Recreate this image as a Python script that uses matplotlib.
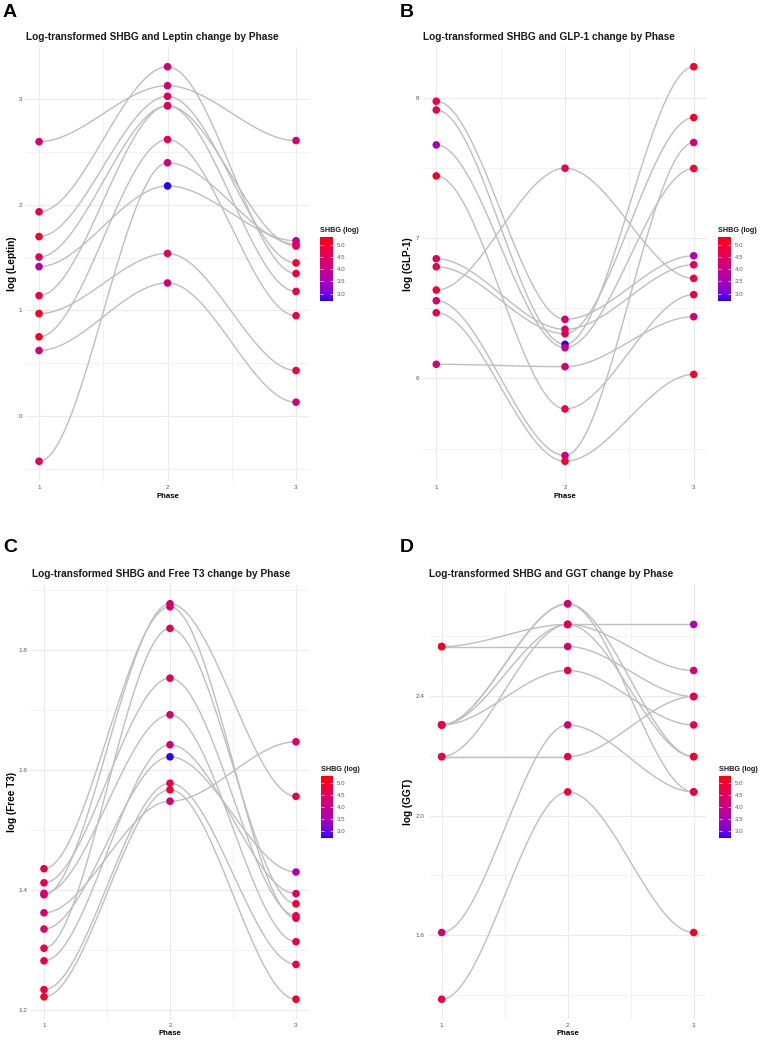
import numpy as np
import matplotlib
matplotlib.use("Agg")
import matplotlib.pyplot as plt
from matplotlib.colors import ListedColormap, Normalize
from matplotlib.ticker import MultipleLocator, FixedLocator
from matplotlib.cm import ScalarMappable

plt.rcParams["font.family"] = ["Liberation Sans", "DejaVu Sans"]

phases = [1, 2, 3]

# ---------------- data (rows = subjects, columns = phases 1,2,3) ----------------
leptin = [
    [2.60, 3.13, 2.61],
    [1.935, 3.31, 1.35],
    [1.70, 3.03, 1.45],
    [1.506, 2.94, 1.61],
    [1.415, 2.18, 1.66],
    [1.14, 2.94, 1.18],
    [0.97, 1.54, 0.43],
    [0.75, 2.62, 0.95],
    [0.62, 1.26, 0.13],
    [-0.43, 2.40, 1.63],
]
leptin_shbg = [
    [4.3, 4.2, 4.3],
    [4.7, 4.2, 4.9],
    [5.0, 4.6, 5.0],
    [4.5, 4.4, 4.6],
    [3.6, 2.75, 3.6],
    [4.7, 4.4, 4.7],
    [5.1, 4.6, 4.9],
    [5.1, 4.6, 4.7],
    [4.2, 4.1, 4.3],
    [4.6, 4.1, 4.6],
]

glp1 = [
    [7.974, 6.42, 6.873],
    [7.912, 6.242, 8.22],
    [7.663, 6.218, 7.495],
    [7.442, 5.782, 6.596],
    [6.852, 6.349, 6.809],
    [6.795, 6.318, 7.858],
    [6.629, 7.497, 6.712],
    [6.553, 5.45, 7.68],
    [6.467, 5.409, 6.028],
    [6.100, 6.083, 6.439],
]
glp1_shbg = [
    [4.7, 4.2, 3.6],
    [4.7, 2.75, 5.0],
    [3.6, 4.1, 5.0],
    [5.1, 4.7, 4.8],
    [4.5, 4.4, 4.6],
    [4.7, 4.6, 5.1],
    [4.9, 4.6, 4.8],
    [4.3, 4.1, 4.3],
    [4.8, 5.0, 5.1],
    [4.3, 4.2, 4.3],
]

free_t3 = [
    [1.4355, 1.872, 1.353],
    [1.412, 1.753, 1.357],
    [1.3945, 1.692, 1.314],
    [1.392, 1.877, 1.556],
    [1.362, 1.548, 1.647],
    [1.335, 1.622, 1.430],
    [1.303, 1.836, 1.377],
    [1.282, 1.642, 1.394],
    [1.234, 1.578, 1.276],
    [1.222, 1.567, 1.218],
]
free_t3_shbg = [
    [4.7, 4.3, 4.6],
    [4.6, 4.6, 4.7],
    [4.3, 4.2, 4.6],
    [4.4, 4.3, 4.7],
    [4.4, 4.2, 4.4],
    [4.4, 2.75, 3.6],
    [4.7, 4.6, 5.0],
    [4.7, 4.2, 4.4],
    [4.9, 4.7, 4.9],
    [5.1, 5.0, 5.1],
]

ggt = [
    [2.565, 2.639, 2.639],
    [2.565, 2.565, 2.398],
    [2.303, 2.708, 2.197],
    [2.303, 2.708, 2.079],
    [2.303, 2.485, 2.303],
    [2.197, 2.639, 2.485],
    [2.197, 2.197, 2.398],
    [1.609, 2.303, 2.079],
    [1.386, 2.079, 1.609],
    [2.303, 2.639, 2.197],
]
ggt_shbg = [
    [5.1, 4.6, 3.6],
    [5.1, 4.2, 4.6],
    [4.8, 4.2, 5.0],
    [4.8, 4.2, 4.8],
    [4.8, 4.6, 4.7],
    [4.8, 4.6, 4.3],
    [4.8, 4.7, 4.6],
    [4.2, 4.2, 4.8],
    [4.7, 4.9, 5.1],
    [4.8, 4.6, 5.0],
]

shbg_limits = [2.70, 5.31]
shbg_ticks = [3.0, 3.5, 4.0, 4.5, 5.0]

# ---------------- colour scale: blue -> red interpolated in CIELAB ----------------
_M = np.array([[0.4124564, 0.3575761, 0.1804375],
               [0.2126729, 0.7151522, 0.0721750],
               [0.0193339, 0.1191920, 0.9503041]])
_WP = np.array([0.95047, 1.0, 1.08883])


def srgb_to_lab(rgb):
    rgb = np.asarray(rgb, float)
    lin = np.where(rgb <= 0.04045, rgb / 12.92, ((rgb + 0.055) / 1.055) ** 2.4)
    t = (lin @ _M.T) / _WP
    d = 6 / 29
    f = np.where(t > d ** 3, np.cbrt(t), t / (3 * d * d) + 4 / 29)
    return np.stack([116 * f[..., 1] - 16,
                     500 * (f[..., 0] - f[..., 1]),
                     200 * (f[..., 1] - f[..., 2])], -1)


def lab_to_srgb(lab):
    d = 6 / 29
    fy = (lab[..., 0] + 16) / 116
    fx = fy + lab[..., 1] / 500
    fz = fy - lab[..., 2] / 200

    def finv(f):
        return np.where(f > d, f ** 3, 3 * d * d * (f - 4 / 29))
    xyz = np.stack([finv(fx), finv(fy), finv(fz)], -1) * _WP
    lin = np.clip(xyz @ np.linalg.inv(_M).T, 0, 1)
    rgb = np.where(lin <= 0.0031308, 12.92 * lin, 1.055 * lin ** (1 / 2.4) - 0.055)
    return np.clip(rgb, 0, 1)


lab_lo = srgb_to_lab([0, 0, 1])
lab_hi = srgb_to_lab([1, 0, 0])
tt = np.linspace(0, 1, 256)[:, None]
cmap = ListedColormap(lab_to_srgb(lab_lo + (lab_hi - lab_lo) * tt))
norm = Normalize(*shbg_limits)

# ---------------- figure ----------------
W, H = 767, 1042
fig = plt.figure(figsize=(W / 100, H / 100), dpi=100)


def fx(x):
    return x / W


def fy(y):
    return 1 - y / H


GRID = "#EBEBEB"
LINE = "#BEBEBE"
TICKC = "#5A5A5A"


def panel(rect, values, shbg, ylabel, title, title_xy, letter, letter_xy,
          major, minor, cbar_rect, ylab_x, xlab_y):
    ax = fig.add_axes(rect)
    vals = np.array(values, float)
    cols = np.array(shbg, float)
    t = np.linspace(0, 1, 60)
    s = 3 * t ** 2 - 2 * t ** 3
    for row in vals:
        for k in range(len(phases) - 1):
            xs = phases[k] + (phases[k + 1] - phases[k]) * t
            ys = row[k] + (row[k + 1] - row[k]) * s
            ax.plot(xs, ys, color=LINE, lw=1.0, solid_capstyle="round", zorder=2)
    xs_pts = np.tile(phases, (vals.shape[0], 1))
    ax.scatter(xs_pts.ravel(), vals.ravel(), c=cols.ravel(), cmap=cmap, norm=norm,
               s=30, linewidths=0, zorder=3)
    lo, hi = vals.min(), vals.max()
    pad = (hi - lo) * 0.05
    ax.set_ylim(lo - pad, hi + pad)
    ax.set_xlim(0.9, 3.1)
    ax.xaxis.set_major_locator(FixedLocator(phases))
    ax.xaxis.set_minor_locator(FixedLocator([1.5, 2.5]))
    ax.yaxis.set_major_locator(MultipleLocator(major))
    ax.yaxis.set_minor_locator(MultipleLocator(minor))
    ax.grid(True, which="major", color=GRID, lw=0.8)
    ax.grid(True, which="minor", color=GRID, lw=0.45)
    ax.set_axisbelow(True)
    for sp in ax.spines.values():
        sp.set_visible(False)
    ax.tick_params(which="both", length=0, labelsize=4.6, labelcolor=TICKC, pad=3)
    ax.set_ylabel(ylabel, fontsize=7.2, fontweight="bold", color="black")
    ax.yaxis.set_label_coords(ylab_x, 0.5)
    ax.set_xlabel("Phase", fontsize=5.6, fontweight="bold", color="black")
    ax.xaxis.set_label_coords(0.5, xlab_y)
    fig.text(fx(title_xy[0]), fy(title_xy[1]), title, fontsize=7.3, fontweight="bold",
             ha="left", va="center", color="#1A1A1A")
    fig.text(fx(letter_xy[0]), fy(letter_xy[1]), letter, fontsize=14, fontweight="bold",
             ha="left", va="top", color="black")
    # colour bar legend
    cax = fig.add_axes(cbar_rect)
    cb = fig.colorbar(ScalarMappable(norm=norm, cmap=cmap), cax=cax, ticks=shbg_ticks)
    cb.outline.set_visible(False)
    cax.tick_params(length=2.2, width=0.5, color="white", direction="in",
                    labelsize=4.4, labelcolor=TICKC, pad=2.5, left=True, right=True)
    cax.set_yticklabels([f"{v:.1f}" for v in shbg_ticks])
    x0 = cbar_rect[0]
    y1 = cbar_rect[1] + cbar_rect[3]
    fig.text(x0, y1 + 3 / H, "SHBG (log)", fontsize=5.2, fontweight="bold",
             ha="left", va="bottom", color="#1A1A1A")
    return ax


panel([fx(26.2), fy(481), (308.9 - 26.2) / W, 434 / H], leptin, leptin_shbg,
      "log (Leptin)", "Log-transformed SHBG and Leptin change by Phase", (26, 37),
      "A", (3, 4), 1.0, 0.5, [fx(320), fy(301), 13 / W, 64 / H], -0.034, -0.028)

panel([fx(423.4), fy(481), 283.2 / W, 434 / H], glp1, glp1_shbg,
      "log (GLP-1)", "Log-transformed SHBG and GLP-1 change by Phase", (423.5, 37),
      "B", (400, 4), 1.0, 0.5, [fx(718), fy(301), 13 / W, 64 / H], -0.038, -0.028)

panel([fx(31.4), fy(1019), 277.2 / W, 435 / H], free_t3, free_t3_shbg,
      "log (Free T3)", "Log-transformed SHBG and Free T3 change by Phase", (31.5, 574),
      "C", (3, 539), 0.2, 0.1, [fx(321), fy(838), 12 / W, 62 / H], -0.053, -0.025)

panel([fx(429.1), fy(1019), 277.2 / W, 435 / H], ggt, ggt_shbg,
      "log (GGT)", "Log-transformed SHBG and GGT change by Phase", (429, 574),
      "D", (400, 539), 0.4, 0.2, [fx(719), fy(838), 12 / W, 62 / H], -0.059, -0.025)

fig.savefig("out.png", dpi=100, facecolor="white")
